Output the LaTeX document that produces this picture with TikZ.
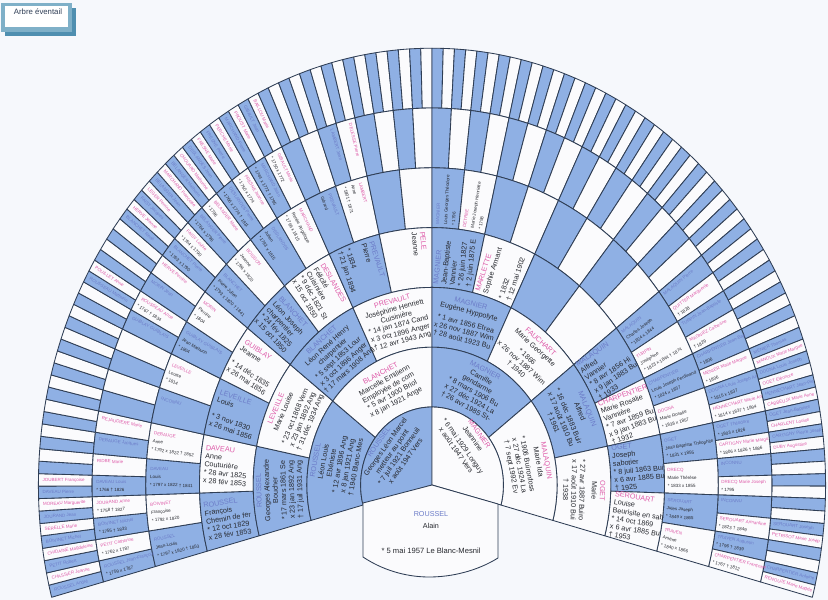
\documentclass[tikz,border=0pt]{standalone}
\usepackage{fontspec}
\setmainfont{Liberation Sans}
\definecolor{bgc}{HTML}{F6F8FC}
\definecolor{cellb}{HTML}{8FB0E4}
\definecolor{cellw}{HTML}{FBFBFD}
\definecolor{edge}{HTML}{2F3E55}
\definecolor{nameb}{HTML}{6C7CC8}
\definecolor{namep}{HTML}{DE5AA8}
\definecolor{txt}{HTML}{26282E}
\definecolor{boxa}{HTML}{7FB0C8}
\definecolor{boxb}{HTML}{4F8FB0}
\tikzset{
  cell/.style={draw=edge,line width=0.85pt,line join=round},
  big/.style={font=\fontsize{7.2}{8.2}\selectfont,text=txt,inner sep=0pt,align=center},
  mid/.style={font=\fontsize{7.2}{8.2}\selectfont,text=txt,inner sep=0pt,align=left},
  tiny/.style={font=\fontsize{4.5}{8}\selectfont,text=txt,inner sep=0pt,align=left},
}
\newcommand\pickname[1]{\ifodd#1\def\nc{namep}\else\def\nc{nameb}\fi}
% tangential label: ring, index, name, remaining lines
\newcommand\tang[5][]{%
  \pgfmathsetmacro\tm{194.9-(#3+.5)*(209.8/(2^#2))}%
  \pgfmathsetmacro\am{(17.7+53.7*#2)-(#2==1?21:26.8)}%
  \pgfmathsetmacro\bm{(18.2+59.8*#2)-(#2==1?23:29.9)}%
  \pgfmathsetmacro\rot{atan2(-\bm*cos(\tm),\am*sin(\tm))}%
  \pickname{#3}%
  \node[big,name=n#2x#3,rotate=\rot,#1] at (\tm:\am pt and \bm pt) {\textcolor{\nc}{#4}\\#5};}
% radial label: style, ring, index, name, remaining lines
\newcommand\radi[5][]{%
  \pgfmathsetmacro\tm{194.9-(#3+.5)*(209.8/(2^#2))}%
  \pickname{#3}%
  \ifdim\tm pt>90pt
    \pgfmathsetmacro\am{17.7+53.7*#2-4}\pgfmathsetmacro\bm{18.2+59.8*#2-4}%
    \pgfmathsetmacro\rot{atan2(\bm*sin(\tm),\am*cos(\tm))-180}%
  \else
    \pgfmathsetmacro\am{17.7+53.7*(#2-1)+3}\pgfmathsetmacro\bm{18.2+59.8*(#2-1)+3}%
    \pgfmathsetmacro\rot{atan2(\bm*sin(\tm),\am*cos(\tm))}%
  \fi
  \ifnum#2=4 \def\fs{mid}\else\def\fs{tiny}\fi
  \node[\fs,name=n#2x#3,rotate=\rot,anchor=west,#1] at (\tm:\am pt and \bm pt) {\textcolor{\nc}{#4}\\#5};}
% one-line label on the outer ring
\newcommand\nm[2]{%
  \pgfmathsetmacro\tm{194.9-(#1+.5)*(209.8/128)}%
  \ifodd#1\def\nc{namep}\else\def\nc{nameb}\fi
  \ifdim\tm pt>90pt
    \pgfmathsetmacro\am{393.6-4}\pgfmathsetmacro\bm{436.8-4}%
    \pgfmathsetmacro\rot{atan2(\bm*sin(\tm),\am*cos(\tm))-180}%
  \else
    \pgfmathsetmacro\am{339.9+3}\pgfmathsetmacro\bm{377+3}%
    \pgfmathsetmacro\rot{atan2(\bm*sin(\tm),\am*cos(\tm))}%
  \fi
  \node[tiny,name=n7x#1,rotate=\rot,anchor=west,text=\nc] at (\tm:\am pt and \bm pt) {#2};}
\begin{document}
\begin{tikzpicture}[x=1pt,y=1pt]
\useasboundingbox (-432,-115) rectangle (396,485);
\fill[bgc] (-432,-115) rectangle (396,485);
% title box
\fill[boxb] (-427,477) rectangle (-356,449);
\fill[boxa] (-431,482) rectangle (-360,453);
\fill[white] (-427,479) rectangle (-364,458);
\node[name=title,font=\fontsize{7.8}{9}\selectfont,text=edge,inner sep=0pt] at (-394,473) {Arbre éventail};
% cells
\foreach \k in {7,6,...,2}{%
  \pgfmathtruncatemacro\n{2^\k-1}%
  \pgfmathsetmacro\ao{17.7+53.7*\k}%
  \pgfmathsetmacro\bo{18.2+59.8*\k}%
  \pgfmathsetmacro\ai{17.7+53.7*(\k-1)}%
  \pgfmathsetmacro\bi{18.2+59.8*(\k-1)}%
  \foreach \i in {0,...,\n}{%
    \pgfmathsetmacro\ta{194.9-\i*(209.8/2^\k)}%
    \pgfmathsetmacro\tb{194.9-(\i+1)*(209.8/2^\k)}%
    \ifodd\i\def\cc{cellw}\else\def\cc{cellb}\fi
    \filldraw[cell,fill=\cc] (\ta:\ai pt and \bi pt) -- (\ta:\ao pt and \bo pt)
      arc[start angle=\ta,end angle=\tb,x radius=\ao pt,y radius=\bo pt]
      -- (\tb:\ai pt and \bi pt)
      arc[start angle=\tb,end angle=\ta,x radius=\ai pt,y radius=\bi pt] -- cycle;
  }%
}
\filldraw[cell,fill=cellb] (0,0) -- (194.9:71.4pt and 78pt) arc[start angle=194.9,end angle=90,x radius=71.4pt,y radius=78pt] -- cycle;
\filldraw[cell,fill=cellw] (0,0) -- (90:71.4pt and 78pt) arc[start angle=90,end angle=-14.9,x radius=71.4pt,y radius=78pt] -- cycle;
% root
\filldraw[cell,fill=cellw] (0,0) -- (-69,-18) -- (-69,-72) .. controls (-45,-88) and (-20,-92) .. (-3,-92)
  .. controls (20,-92) and (45,-86) .. (66,-73) -- (66,-19) -- cycle;
\node[big,name=root0,text=nameb] at (-1,-29) {ROUSSEL};
\node[big,name=root1] at (-1,-41) {Alain};
\node[big,name=root2,font=\fontsize{7.6}{9}\selectfont] at (-1,-66) {* 5 mai 1957 Le Blanc-Mesnil};
% ring 1
\tang{1}{0}{ROUSSEL}{Georges Léon Marcel\\metteur au point\\* 7 juil 1921 Bonneuil\\x août 1947 Vers}
\tang[shift={(-10,2)}]{1}{1}{MAGNIER}{Jeannine\\[4pt]* 6 mai 1929 Longuy\\x août 1947 Vers}
% ring 2
\tang{2}{0}{ROUSSEL}{Léon Louis\\Ebéniste\\* 12 avr 1896 Ang\\x 8 jan 1921 Ang\\† 1940 Blanc-Mes}
\tang{2}{1}{BLANCHET}{Marcelle Emilienn\\Employée de com\\* 5 avr 1900 Briol\\x 8 jan 1921 Ange}
\tang{2}{2}{MAGNIER}{Camille\\gendarme\\* 8 mars 1906 Bu\\x 27 déc 1924 La\\† 26 avr 1985 St-}
\tang{2}{3}{MALAQUIN}{Marie Ida\\[3pt]* 1906 Buironfoss\\x 27 déc 1924 La\\† 7 sept 1992 Ev}
% ring 3
\tang{3}{0}{ROUSSEL}{Georges Alexandre\\Boucher\\* 17 mars 1861 Se\\x 23 jan 1892 Ang\\† 17 juil 1931 Ang}
\tang{3}{1}{LEVEILLE}{Marie Louise\\[4pt]* 23 oct 1868 Vern\\x 23 jan 1892 Ang\\† 31 déc 1934 Ang}
\tang{3}{2}{BLANCHET}{Léon René Henry\\charpentier\\* 5 sept 1853 Lour\\x 3 oct 1896 Anger\\† 17 mars 1908 Ang}
\tang{3}{3}{PREVAULT}{Joséphine Henriett\\Cuisinière\\* 14 jan 1874 Cand\\x 3 oct 1896 Anger\\† 12 avr 1943 Ang}
\tang{3}{4}{MAGNIER}{Eugène Hyppolyte\\[4pt]* 1 avr 1856 Etrea\\x 26 nov 1887 Wim\\† 28 août 1923 Bu}
\tang{3}{5}{FAUCHART}{Marie Georgette\\[4pt]* 1866\\x 26 nov 1887 Wim\\† 1940}
\tang{3}{6}{MALAQUIN}{Alfred\\[4pt]* 16 déc 1883 Buir\\x 17 août 1910 Bu\\† 1961}
\tang{3}{7}{OGET}{Marie\\[4pt]* 27 avr 1887 Buiro\\x 17 août 1910 Bui\\† 1938}
% ring 4
\radi{4}{0}{ROUSSEL}{François\\Chemin de fer\\* 12 oct 1829\\x 28 fév 1853}
\radi{4}{1}{DAVEAU}{Anne\\Couturière\\* 28 avr 1825\\x 28 fév 1853}
\radi{4}{2}{LEVEILLE}{Louis\\~\\* 3 nov 1830\\x 26 mai 1856}
\radi{4}{3}{GUIBLAY}{Jeanne\\~\\* 14 déc 1835\\x 26 mai 1856}
\radi{4}{4}{BLANCHET}{Léon Joseph\\charpentier\\* 24 fév 1825\\x 15 oct 1850}
\radi{4}{5}{DESLANDES}{Félicité\\Cuisinière\\* 9 déc 1821 St\\x 15 oct 1850}
\radi{4}{6}{PREVAULT}{Pierre\\~\\* 1834\\† 21 jan 1894}
\radi{4}{7}{PELE}{Jeanne\\~\\~\\~}
\radi{4}{8}{MAGNIER}{Jean-Baptiste\\Vannier\\* 26 juin 1827\\† 2 juin 1875 E}
\radi{4}{9}{MARLETTE}{Sophie Armant\\~\\* 1832\\† 12 mai 1902}
\radi{4}{12}{MALAQUIN}{Alfred\\Vannier\\* 8 avr 1856 Hi\\x 9 jan 1883 Bu\\† 1933}
\radi{4}{13}{CHARPENTIER}{Marie Rosalie\\Vannière\\* 7 avr 1859 Bu\\x 9 jan 1883 Bu\\† 1932}
\radi{4}{14}{OGET}{Joseph\\sabotier\\* 8 juil 1863 Bui\\x 6 avr 1885 Bu\\† 1925}
\radi{4}{15}{SEROUART}{Louise\\Beurisite en sab\\* 14 oct 1869\\x 6 avr 1885 Bu\\† 1953}
% ring 5
\radi{5}{0}{ROUSSEL}{Jean-Louis\\* 1797 x 1820 † 1853}
\radi{5}{1}{BOIVINET}{Françoise\\* 1792 x 1820}
\radi{5}{2}{DAVEAU}{Louis\\* 1797 x 1822 † 1841}
\radi{5}{3}{DEBAUGE}{Anne\\* 1792 x 1822 † 1852}
\radi{5}{4}{INCONNU}{~\\~}
\radi{5}{5}{LEVEILLE}{Louise\\* 1814}
\radi{5}{6}{GUIBLAY GUIBLAIS}{Jean Mathurin\\* 1804}
\radi{5}{7}{MORIN}{Perrine\\* 1804}
\radi{5}{8}{BLANCHET}{Pierre Julien\\* 1793 x 1820 † 1841}
\radi{5}{9}{BOISSON}{Jeanne\\* 1796 x 1820}
\radi{5}{10}{DESLANDES}{Julien\\* 1793 x 1815}
\radi{5}{11}{MARCHAND}{Renée Angélique\\* 1796 x 1815}
\radi{5}{12}{PREVAULT}{Gérard\\~}
\radi{5}{13}{LAMBERT}{Anne\\* 1801 † 1871}
\radi{5}{16}{MAGNIER}{Louis Georges Théodore\\* 1796}
\radi{5}{17}{DETREE}{Marie Joseph Henriette\\* 1798}
\radi{5}{24}{MALAQUIN}{Charles Joseph\\* 1824 x 1844}
\radi{5}{25}{TURPIN}{Joséphine\\* 1823 x 1844 † 1874}
\radi{5}{26}{CHARPENTIER}{Louis Joseph Ferdinand\\* 1824 x 1857}
\radi{5}{27}{DOGNA}{Marie Rosalie\\* 1838 x 1857}
\radi{5}{28}{OGET}{Jean Baptiste Théophile\\* 1831 x 1855}
\radi{5}{29}{DRECQ}{Marie Thérèse\\* 1833 x 1855}
\radi{5}{30}{SEROUART}{Jules Joseph\\* 1849 x 1865}
\radi{5}{31}{TRAVEN}{Arsène\\* 1840 x 1866}
% ring 6
\radi{6}{0}{ROUSSEL Jean-François}{* 1759 x 1787}
\radi{6}{1}{PETIT Catherine}{* 1762 x 1787}
\radi{6}{2}{BOIVINET Michel}{* 1755 † 1833}
\radi{6}{3}{JOURAND Anne}{* 1758 † 1827}
\radi{6}{4}{DAVEAU Louis}{* 1766 † 1826}
\radi{6}{5}{RIDBE Marie}{~}
\radi{6}{6}{DEBAUGE Jacques}{~}
\radi{6}{7}{REJAUDIERE Marie}{~}
\radi{6}{12}{GUIBLAY GUIBLAIS}{~}
\radi{6}{13}{ROUSSEAU Anne}{* 1767 † 1834}
\radi{6}{14}{MORIN Jean}{~}
\radi{6}{15}{HERVE Perrine}{~}
\radi{6}{16}{BLANCHET Pierre}{* 1763 x 1790}
\radi{6}{17}{FAISY Louise}{* 1764 x 1790}
\radi{6}{18}{BELANGER Pierre}{* 1764 x 1796}
\radi{6}{19}{BELANGER Marie}{* 1796}
\radi{6}{20}{DESLANDES Pierre}{* 1766 x 1774 † 1811}
\radi{6}{21}{FRESNE Jeanne}{* 1750 x 1774}
\radi{6}{22}{MARCHAND Jean}{* 1744 x 1772 † 1795}
\radi{6}{23}{GIBAULT Marie}{* 1750 x 1772}
\radi{6}{26}{LAMBERT Jean}{~}
\radi{6}{27}{DELESSE Pierre}{~}
\radi{6}{48}{MALAQUIN Pierre}{~}
\radi{6}{49}{QUITTER Marguerite}{† 1828}
\radi{6}{50}{TURPIN Jean-Baptiste}{~}
\radi{6}{51}{MAGNIEZ Catherine}{† 1829}
\radi{6}{52}{CHARPENTIER Jean-Bap}{* 1806}
\radi{6}{53}{MENIER Marie Margue}{* 1806}
\radi{6}{54}{DOGNA Louis Joseph An}{* 1815 x 1837}
\radi{6}{55}{HENNECHART Marie An}{* 1814 x 1837 † 1894}
\radi{6}{56}{OGET Théodore}{* 1803 x 1826}
\radi{6}{57}{CARTIGNY Marie Margu}{* 1806 x 1826 † 1886}
\radi{6}{58}{INCONNU}{~}
\radi{6}{59}{DRECQ Marie Joseph}{* 1795}
\radi{6}{60}{INCONNU}{~}
\radi{6}{61}{SEROUART Armantine}{* 1823 † 1849}
\radi{6}{62}{TRAVEN Augustin}{* 1796 † 1839}
\radi{6}{63}{CHARPENTIER Françoise}{* 1767 † 1812}
% ring 7
\nm{0}{ROUSSEL André}
\nm{1}{CHASSIER Jeanne}
\nm{2}{PETIT Robert}
\nm{3}{CHIDAINE Magdeleine}
\nm{4}{BOIVINET Michel}
\nm{5}{SERELLE Marie}
\nm{6}{JOURAND Jean}
\nm{7}{MOREAU Marguerite}
\nm{8}{DAVEAU Pierre}
\nm{9}{JOUBERT Françoise}
\nm{26}{ROUSSEAU Mathurin}
\nm{27}{POUILLET Anne}
\nm{32}{BLANCHET René}
\nm{33}{HERVE Jeanne}
\nm{34}{FAISY Jacques}
\nm{35}{LEGER Perrine}
\nm{36}{BELANGER Jean}
\nm{37}{MARCHAND Françoise}
\nm{38}{BELANGER Mathurin}
\nm{39}{CHOUARD Mathurine}
\nm{40}{DESLANDES Jean}
\nm{41}{FRESNE Marie}
\nm{42}{FRESNE Pierre}
\nm{43}{PERCHE Marie}
\nm{44}{MARCHAND Pierre}
\nm{45}{PROUST Marie}
\nm{46}{GIBAULT Jean}
\nm{47}{BAILLOU Marie}
\nm{106}{MENIER Thomas}
\nm{107}{MANOUX Marie Margue}
\nm{108}{DOGNA Louis Joseph}
\nm{109}{OGET Eléonore}
\nm{110}{HENNECHART Jean-Pie}
\nm{111}{CABBEUJX Marie Anne}
\nm{112}{OGET Jean-Baptiste}
\nm{113}{CHARLENT Louise}
\nm{114}{CARTIGNY Pierre Josep}
\nm{115}{DUBY Augustine}
\nm{122}{SEROUART Joseph}
\nm{123}{PETRISOT Marie Josèp}
\nm{126}{CHARPENTIER Antoine}
\nm{127}{RENOUJE Marie Magde}
\end{tikzpicture}
\end{document}
